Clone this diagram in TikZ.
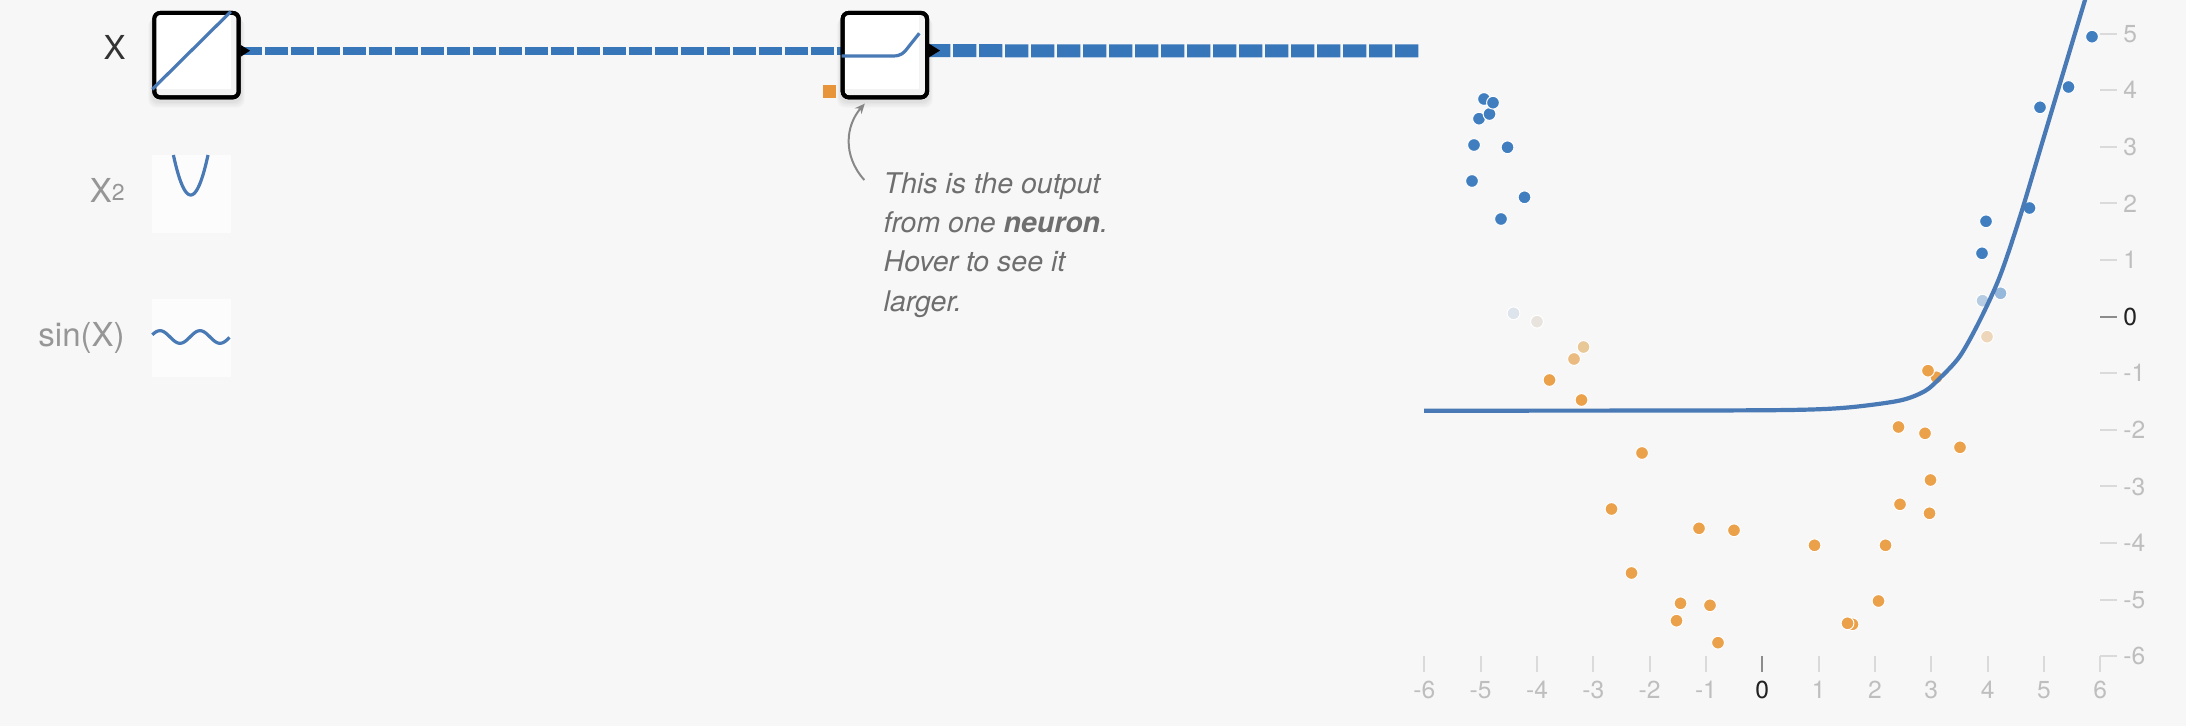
\documentclass[tikz,border=0pt]{standalone}
\usepackage{fontspec}
\setmainfont{TeX Gyre Heros}
\usetikzlibrary{arrows.meta}
\pgfdeclarelayer{back}
\pgfdeclarelayer{links}
\pgfsetlayers{back,links,main}
\definecolor{bgc}{RGB}{247,247,247}
\definecolor{linkblue}{RGB}{56,118,186}
\definecolor{curveblue}{RGB}{74,122,181}
\definecolor{dotblue}{RGB}{64,126,192}
\definecolor{dotorange}{RGB}{235,160,74}
\definecolor{biasorange}{RGB}{232,148,58}
\definecolor{tickgray}{RGB}{218,218,218}
\definecolor{zerogray}{RGB}{140,140,140}
\definecolor{labgray}{RGB}{190,190,190}
\definecolor{zerolabc}{RGB}{34,34,34}
\definecolor{notegray}{RGB}{110,110,110}
\definecolor{annotgray}{RGB}{136,136,136}
\definecolor{featgray}{RGB}{150,150,150}
\definecolor{xdark}{RGB}{51,51,51}
\definecolor{innergray}{RGB}{243,243,243}
\definecolor{thumbbg}{RGB}{252,252,252}
\definecolor{lbA}{RGB}{182,204,226}
\definecolor{lbB}{RGB}{150,184,219}
\definecolor{paleB}{RGB}{222,228,236}
\definecolor{paleW}{RGB}{232,228,221}
\definecolor{loA}{RGB}{233,200,152}
\definecolor{loB}{RGB}{234,186,128}
\definecolor{loC}{RGB}{237,214,185}
\newcommand\axfontsel{\fontsize{12.3}{12.3}\selectfont}
\begin{document}
\begin{tikzpicture}[x=0.5pt,y=-0.5pt,
  neuronbox/.style={draw=black,line width=2pt,fill=innergray,rounded corners=3pt,minimum width=42.2pt,minimum height=42.2pt,inner sep=0pt,outer sep=0pt},
  boxborder/.style={draw=black,line width=2pt,rounded corners=3pt},
  thumbline/.style={draw=curveblue,line width=1.6pt},
  thumbbox/.style={fill=thumbbg,minimum width=39.2pt,minimum height=39.2pt,inner sep=0pt,outer sep=0pt},
  thinlink/.style={draw=linkblue,line width=4.15pt,dash pattern=on 11.5pt off 1.5pt},
  thicklink/.style={draw=linkblue,line width=6.5pt,dash pattern=on 11.65pt off 1.35pt},
  porttri/.style={fill=black},
  featlab/.style={font=\fontsize{16.5}{16.5}\selectfont,inner sep=0pt,anchor=base east},
  notetext/.style={font=\itshape\fontsize{14.25}{19.65}\selectfont,text=notegray,inner sep=0pt,anchor=base west},
  annot/.style={draw=annotgray,line width=1pt,-{Stealth[length=5pt,width=4.4pt]}},
  axtick/.style={draw=tickgray,line width=1pt},
  zerotick/.style={draw=zerogray,line width=1pt},
  axlab/.style={font=\axfontsel,text=labgray,inner sep=0pt},
  zerolab/.style={font=\axfontsel,text=zerolabc,inner sep=0pt},
  dotbase/.style={draw=white,line width=0.5pt},
  biasbox/.style={fill=biasorange,minimum size=6.25pt,inner sep=0pt},
  curveline/.style={draw=curveblue,line width=2.1pt},
  softshadow/.style={fill=black,opacity=0.025,rounded corners=4pt}
]
\useasboundingbox (0,0) rectangle (2186,726);
\begin{pgfonlayer}{back}
\fill[bgc] (0,0) rectangle (2186,726);
\end{pgfonlayer}

% neuron boxes
\node[neuronbox] (box1) at (196.5,55.15) {};
\node[neuronbox] (box2) at (884.85,55.15) {};

% thumbnails inside boxes
\fill[white] (156.3,15) rectangle (230.7,89.3);
\draw[boxborder] (box1.north west) rectangle (box1.south east);
\draw[thumbline] (152.3,89.3) -- (230.7,11.7);

\fill[white] (845,15) rectangle (919.3,89.3);
\draw[boxborder] (box2.north west) rectangle (box2.south east);
\draw[thumbline] (841.7,56) -- (893,56) .. controls (901,56) and (904,53) .. (908,47.5) -- (919.3,33.3);

% output ports
\fill[porttri] (240.7,45) -- (250,50.7) -- (240.7,56.7) -- cycle;
\fill[porttri] (928.7,43.5) -- (940,50.6) -- (928.7,57.5) -- cycle;

% links and shadows
\coordinate (linkend) at (1420.7,50.8);
\begin{pgfonlayer}{links}
\foreach \i in {1,...,4}{
  \fill[softshadow] (152.3-\i,14+\i) rectangle (240.7+\i,101.3+1.6*\i);
  \fill[softshadow] (841-\i,14+\i) rectangle (928.7+\i,101.3+1.6*\i);
}
\draw[thinlink] ([yshift=2.2pt]box1.east) -- ([yshift=2.2pt]box2.west);
\draw[thicklink] ([yshift=2.2pt]box2.east) -- (linkend);
\end{pgfonlayer}

% bias square
\node[biasbox] (bias) at (829.65,91.5) {};

% feature labels and thumbnails
\node[featlab,text=xdark] (fx) at (126,60) {X};
\node[featlab,text=featgray] (fxsq) at (125,202.3) {X\raisebox{0.8pt}{\fontsize{11.5}{11.5}\selectfont 2}};
\node[featlab,text=featgray] (fsin) at (125,346.7) {sin(X)};

\node[thumbbox] (thsq) at (191.5,194.15) {};
\node[thumbbox] (thsin) at (191.5,337.85) {};
\draw[thumbline] plot[domain=-17.3:17.3,samples=40,smooth] ({190.7+\x},{195-0.1336*\x*\x});
\draw[thumbline] plot[domain=152.3:229.5,samples=80,smooth] (\x,{337-6.3*cos(9*(\x-160))});

% annotation
\coordinate (notestart) at (864.3,180);
\coordinate (notetip) at (864.8,103.6);
\draw[annot] (notestart) .. controls (842,155) and (846,125) .. (notetip);
\node[notetext] (note1) at (883.3,193.3) {This is the output};
\node[notetext] (note2) at (883.3,232.6) {from one \textbf{neuron}.};
\node[notetext] (note3) at (883.3,271.9) {Hover to see it};
\node[notetext] (note4) at (883.3,311.2) {larger.};

% axes
\foreach \v in {-6,-5,-4,-3,-2,-1,1,2,3,4,5,6}{
  \pgfmathsetmacro\px{1762.3+\v*56.33}
  \draw[axtick] (\px,656) -- (\px,671.7);
  \node[axlab,anchor=base] (xl\v) at (\px,698.3) {\v};
}
\draw[zerotick] (1762.3,656) -- (1762.3,671.7);
\node[zerolab,anchor=base] (xl0) at (1762.3,698.3) {0};
\foreach \v in {-6,-5,-4,-3,-2,-1,1,2,3,4,5}{
  \pgfmathsetmacro\py{316.7-\v*56.6}
  \pgfmathsetmacro\pb{\py+8.6}
  \draw[axtick] (2100,\py) -- (2116.5,\py);
  \node[axlab,anchor=base west] (yl\v) at (2123,\pb) {\v};
}
\draw[zerotick] (2100,316.7) -- (2116.5,316.7);
\node[zerolab,anchor=base west] (yl0) at (2123,325.3) {0};

% data points
\foreach \x/\y in {1484/99, 1479/118.7, 1489.5/114, 1493/102.7, 1474/145, 1507.5/147.3, 1472/181, 1524.5/197.3, 1501/219, 2092/36.7, 2068.5/87, 2040/107.3, 2029.5/208, 1986/221.3, 1982/253.3}
  \fill[dotbase,fill=dotblue] (\x,\y) circle[radius=6.4];
\fill[dotbase,fill=lbA] (1982.5,300.7) circle[radius=6.4];
\fill[dotbase,fill=lbB] (2000.5,293.3) circle[radius=6.4];
\fill[dotbase,fill=paleB] (1513.5,313.3) circle[radius=6.4];
\fill[dotbase,fill=paleW] (1537,321.7) circle[radius=6.4];
\fill[dotbase,fill=loA] (1583.5,347) circle[radius=6.4];
\fill[dotbase,fill=loB] (1574,359) circle[radius=6.4];
\fill[dotbase,fill=loC] (1987,336.7) circle[radius=6.4];
\foreach \x/\y in {1549.5/380, 1581.5/400, 1936.5/377.3, 1928/370.7, 1898.5/427, 1925/433.3, 1960/447.3, 1642/453, 1930.5/480, 1900/504.3, 1929.5/513.3, 1611.5/509, 1699/528.3, 1734/530.3, 1814.5/545.3, 1885.5/545.3, 1631.5/573, 1680.5/603.3, 1710/605.3, 1878.5/601, 1676.5/620.7, 1852.5/624.3, 1847.5/623.3, 1718/642.7}
  \fill[dotbase,fill=dotorange] (\x,\y) circle[radius=6.4];

% neuron output curve
\begin{scope}
\clip (1400,0) rectangle (2186,726);
\draw[curveline] plot[smooth,tension=0.5] coordinates {(1424,410.7) (1700,410.5) (1800,409.8) (1850,407.3) (1900,400.5) (1925,391) (1940,378) (1960,356) (1980,320) (2000,276) (2020,216.7) (2045,133.3) (2085,0) (2090,-16.7)};
\end{scope}
\end{tikzpicture}
\end{document}
